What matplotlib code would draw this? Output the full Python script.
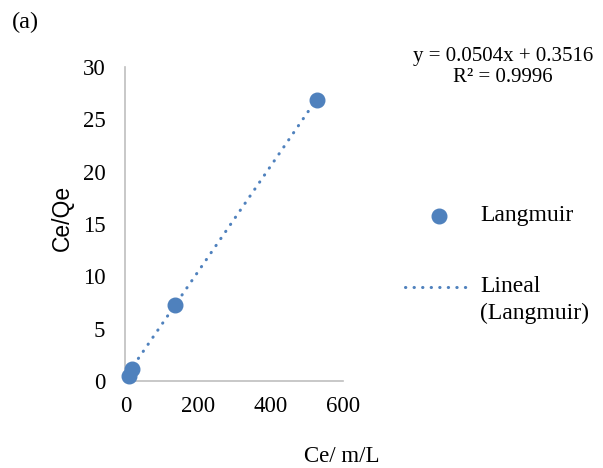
import matplotlib
matplotlib.use("Agg")
import matplotlib.pyplot as plt
import numpy as np

ce = [9, 17, 137, 529]
ce_qe = [0.5, 1.15, 7.3, 26.8]
slope = 0.0504
intercept = 0.3516
r2 = 0.9996
xticks = [0, 200, 400, 600]
yticks = [0, 5, 10, 15, 20, 25, 30]

blue = '#4F81BD'
serif = 'Liberation Serif'

fig = plt.figure(figsize=(6.03, 4.68), dpi=100)
ax = fig.add_axes([0.208, 0.186, 0.361, 0.671])

xs = np.array([min(ce), max(ce)])
line, = ax.plot(xs, slope * xs + intercept, color=blue, lw=2.2,
                linestyle=(0, (0.1, 2.7)), dash_capstyle='round', zorder=2)
pts, = ax.plot(ce, ce_qe, 'o', color=blue, ms=10.5, zorder=3, clip_on=False)

ax.set_xlim(0, 600)
ax.set_ylim(0, 30)
ax.set_xticks(xticks)
ax.set_yticks(yticks)
ax.tick_params(length=0, labelsize=16.5)
ax.tick_params(axis='y', pad=14.5)
ax.tick_params(axis='x', pad=11)
for lab in ax.get_xticklabels() + ax.get_yticklabels():
    lab.set_fontfamily(serif)
for s in ['top', 'right']:
    ax.spines[s].set_visible(False)
for s in ['left', 'bottom']:
    ax.spines[s].set_color('#BFBFBF')
    ax.spines[s].set_linewidth(1.2)

fig.text(62 / 603, 1 - 218 / 468, 'Ce/Qe', rotation=90, ha='center', va='center',
         fontsize=16.5, family='Liberation Sans')
fig.text(342 / 603, 1 - 457 / 468, 'Ce/ m/L', ha='center', va='center',
         fontsize=16.5, family=serif)
fig.text(12 / 603, 1 - 22 / 468, '(a)', ha='left', va='center',
         fontsize=17.5, family=serif)
fig.text(503 / 603, 1 - 57 / 468, f'y = {slope}x + {intercept}', ha='center',
         va='center', fontsize=15, family=serif)
fig.text(503 / 603, 1 - 78 / 468, f'R² = {r2}', ha='center',
         va='center', fontsize=15, family=serif)

# legend
fig.lines.append(plt.Line2D([439 / 603], [1 - 216 / 468], marker='o', color=blue,
                            ms=10.5, transform=fig.transFigure, lw=0))
fig.text(480 / 603, 1 - 216 / 468, 'Langmuir', ha='left', va='center',
         fontsize=17, family=serif)
fig.lines.append(plt.Line2D([405 / 603, 473 / 603], [1 - 287 / 468, 1 - 287 / 468],
                            color=blue, lw=2.2, linestyle=(0, (0.1, 2.7)),
                            dash_capstyle='round', transform=fig.transFigure))
fig.text(480 / 603, 1 - 287 / 468, 'Lineal', ha='left', va='center',
         fontsize=17, family=serif)
fig.text(480 / 603, 1 - 313 / 468, '(Langmuir)', ha='left', va='center',
         fontsize=17, family=serif)

fig.savefig('out.png', dpi=100)
